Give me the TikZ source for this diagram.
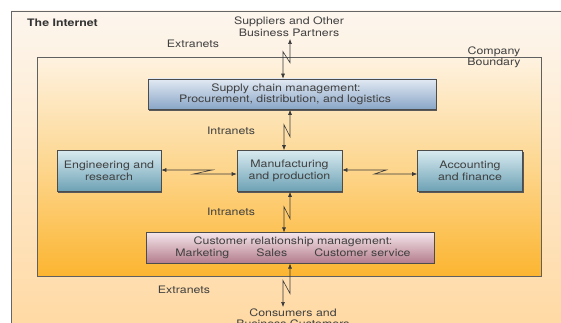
\documentclass[tikz,border=0pt]{standalone}
\usepackage{fontspec}
\setmainfont{TeX Gyre Heros}[FakeStretch=1.2]
\usetikzlibrary{arrows.meta,shadows}
\definecolor{txt}{HTML}{404040}
\definecolor{outTop}{HTML}{FDF6EE}
\definecolor{outBot}{HTML}{FFD8A0}
\definecolor{cbTop}{HTML}{FEF2E0}
\definecolor{cbMid}{HTML}{FDD68E}
\definecolor{cbBot}{HTML}{FCB530}
\definecolor{scTop}{HTML}{E2E9F3}
\definecolor{scBot}{HTML}{88A5C6}
\definecolor{tlTop}{HTML}{D8EAF0}
\definecolor{tlBot}{HTML}{6CA1B4}
\definecolor{crTop}{HTML}{F4E5EA}
\definecolor{crBot}{HTML}{B47C8C}
\definecolor{lineC}{HTML}{3A3A3A}
\begin{document}
\begin{tikzpicture}[x=1pt,y=1pt,
  lbl/.style={font=\fontsize{10.3}{11.5}\selectfont, text=txt, align=center, inner sep=0pt},
  boxbase/.style={lbl, draw=black!70, line width=0.6pt,
    drop shadow={shadow xshift=1.2pt, shadow yshift=-1.2pt, fill=black!65, opacity=1}},
  scbox/.style={boxbase, top color=scTop, bottom color=scBot},
  tlbox/.style={boxbase, top color=tlTop, bottom color=tlBot, minimum width=104pt, minimum height=41pt},
  crbox/.style={boxbase, top color=crTop, bottom color=crBot},
  conn/.style={draw=lineC, line width=0.6pt, {Latex[length=5pt,width=4pt]}-{Latex[length=5pt,width=4pt]}}
]
\useasboundingbox (0,0) rectangle (561,-323);
\clip (0,0) rectangle (561,-323);
\fill[white] (0,0) rectangle (561,-323);
% the Internet area
\shade[top color=outTop, bottom color=outBot] (11,-11) rectangle (575,-340);
\draw[gray!80!black, line width=0.7pt] (11,-340) -- (11,-11) -- (575,-11);
% company boundary
\node[minimum width=504pt, minimum height=219pt, inner sep=0pt,
      top color=cbTop, bottom color=cbBot, middle color=cbMid,
      draw=gray!75!black, line width=0.7pt] (cb) at (289.5,-167) {};

\node[lbl, font=\fontsize{10.3}{11.5}\selectfont\bfseries, text=black!80] (inet) at (62.5,-23) {The Internet};
\node[lbl] (sup) at (289,-26.5) {Suppliers and Other\\Business Partners};
\node[lbl] (ext1) at (193,-43.5) {Extranets};
\node[lbl] (compb) at (494,-57.5) {Company\\Boundary};
\node[lbl] (intra1) at (231,-131) {Intranets};
\node[lbl] (intra2) at (231,-212) {Intranets};
\node[lbl] (ext2) at (184,-289.5) {Extranets};
\node[lbl] (cons) at (293,-318) {Consumers and\\Business Customers};

\node[scbox, minimum width=288pt, minimum height=30.5pt] (supply) at (292,-94.25)
  {Supply chain management:\hspace*{12pt}\\Procurement, distribution, and logistics\hspace*{14pt}};
\node[tlbox] (eng) at (109,-171) {Engineering and\\research};
\node[tlbox, minimum width=105pt] (manu) at (289.5,-171) {Manufacturing\\and production};
\node[tlbox, minimum width=105pt] (acct) at (470,-171) {Accounting\\and finance};
\node[crbox, minimum width=288pt, minimum height=30.5pt] (crm) at (290,-248)
  {\hspace*{6pt}Customer relationship management:\\\hspace*{6pt}Marketing\hspace{27pt}Sales\hspace{27pt}Customer service};

\coordinate (topend) at (290,-39);
\coordinate (botend) at (283,-307);

\draw[conn] ([xshift=-9pt]supply.north) -- ++(0,27) -- ++(7,-11) -- (topend);
\draw[conn] ([xshift=-5.5pt]manu.north) -- ++(0,25.5) -- ++(6,-12) -- ([xshift=-2pt]supply.south);
\draw[conn] ([xshift=0.5pt]manu.south) -- ++(0,-27) -- ++(-6,12) -- ([xshift=-6pt]crm.north);
\draw[conn] (crm.south) -- ++(0,-30) -- ++(-7,13) -- (botend);
\draw[conn] ([yshift=1pt]eng.east) -- ++(51,0) -- ++(-19,-4) -- ([yshift=-3pt]manu.west);
\draw[conn] ([yshift=1pt]manu.east) -- ++(44,0) -- ++(-12,-4) -- ([yshift=-3pt]acct.west);
\end{tikzpicture}
\end{document}
